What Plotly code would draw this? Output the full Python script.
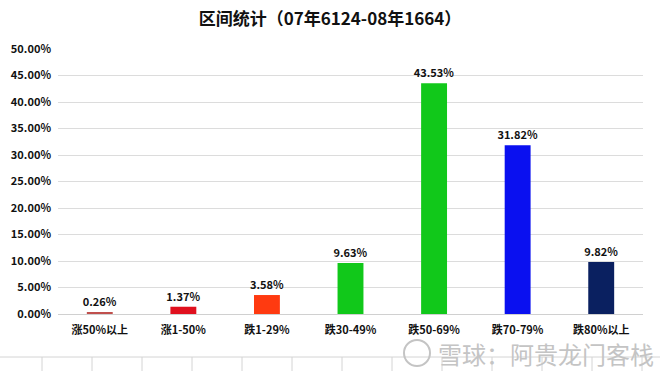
import plotly.graph_objects as go

categories = ["涨50%以上", "涨1-50%", "跌1-29%", "跌30-49%", "跌50-69%", "跌70-79%", "跌80%以上"]
values_pct = [0.26, 1.37, 3.58, 9.63, 43.53, 31.82, 9.82]
bar_colors = ["#c0504d", "#e0101e", "#ff3a10", "#11c81a", "#11c81a", "#0a10f0", "#0a2060"]
title_text = "区间统计（07年6124-08年1664）"
watermark_text = "雪球：阿贵龙门客栈"

FONT = "Noto Sans CJK SC"
L, T, PW, PH = 58, 49, 585, 265  # plot area in px


def px(x):
    return (x - L) / PW


def py(y):
    return (T + PH - y) / PH


fig = go.Figure()
fig.add_trace(go.Bar(
    x=categories,
    y=[v / 100 for v in values_pct],
    marker=dict(color=bar_colors, line=dict(width=0)),
    width=0.31,
    text=[f"{v:.2f}%" for v in values_pct],
    textposition="outside",
    constraintext="none",
    cliponaxis=False,
    textfont=dict(family=FONT, size=11, color="#111111", weight=700),
))

fig.update_layout(
    width=660, height=371,
    margin=dict(l=L, r=660 - L - PW, t=T, b=371 - T - PH),
    paper_bgcolor="white", plot_bgcolor="white",
    showlegend=False,
    title=dict(text=title_text, x=0.5, xanchor="center",
               y=1 - 19 / 371, yanchor="middle",
               font=dict(family=FONT, size=17, color="#111111", weight=700)),
    font=dict(family=FONT, color="#111111"),
    uniformtext=dict(minsize=11, mode="show"),
)
fig.update_yaxes(range=[0, 0.5], dtick=0.05, tickformat=".2%",
                 gridcolor="#dcdcdc", gridwidth=1, zeroline=False,
                 showline=False, ticks="", automargin=False, ticklabelstandoff=6,
                 tickfont=dict(family=FONT, size=11, color="#111111", weight=700))
fig.update_xaxes(showgrid=False, showline=True, linecolor="#d0d0d0",
                 ticks="", automargin=False, ticklabelstandoff=6,
                 tickfont=dict(family=FONT, size=11, color="#111111", weight=700))

# spreadsheet cell grid behind the picture (decoration)
fig.add_shape(type="line", xref="paper", yref="paper",
              x0=px(0), x1=px(660), y0=py(357), y1=py(357),
              line=dict(color="#d4d4d4", width=1))
for i in range(13):
    xp = 42 + 50 * i
    fig.add_shape(type="line", xref="paper", yref="paper",
                  x0=px(xp), x1=px(xp), y0=py(357), y1=py(372),
                  line=dict(color="#d4d4d4", width=1))

# watermark
fig.add_annotation(text=watermark_text, xref="paper", yref="paper",
                   x=px(436), y=py(353), xanchor="left", yanchor="middle",
                   showarrow=False,
                   font=dict(family=FONT, size=24, color="#c4c4c4"))
fig.add_shape(type="circle", xref="paper", yref="paper",
              x0=px(404), x1=px(430), y0=py(340), y1=py(366),
              line=dict(color="#c4c4c4", width=2))

fig.write_html("out.html", config={"displayModeBar": False},
               post_script="document.body.style.margin='0';")
